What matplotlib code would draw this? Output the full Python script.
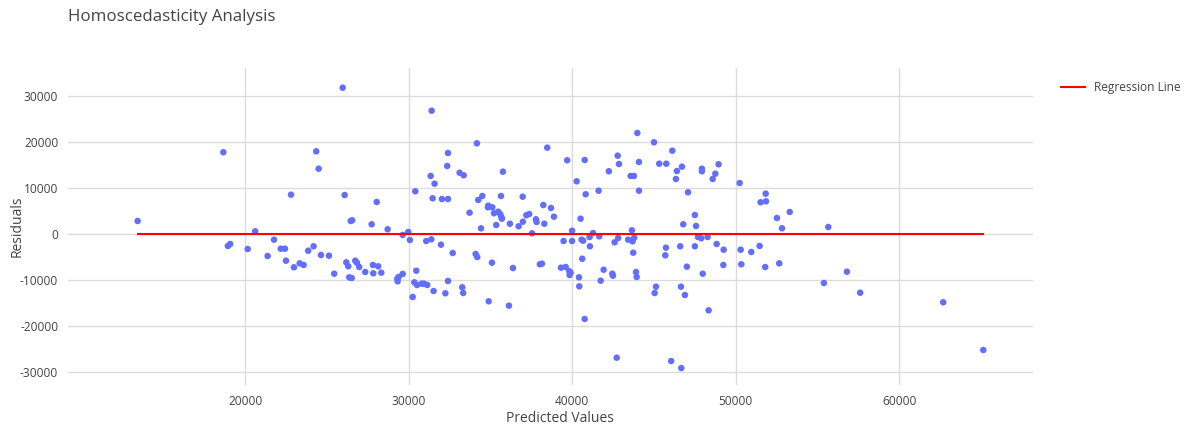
import matplotlib
matplotlib.use("Agg")
import matplotlib.pyplot as plt
import numpy as np

# Predicted values and residuals
predicted = [
    13420, 18660, 18940, 19080, 20150, 20610, 21370, 21760, 22170, 22430,
    22490, 22800, 22980, 23330, 23570, 23850, 24180, 24340, 24490, 24630,
    25120, 25440, 25960, 26080, 26180, 26300, 26360, 26510, 26450, 26540,
    26730, 26830, 26970, 27340, 27730, 27810, 27830, 28040, 28130, 28320,
    28710, 29300, 29320, 29380, 29630, 29630, 29970, 30070, 30240, 30340,
    30500, 30790, 30930, 31130, 30400, 30460, 31070, 31400, 31340, 31580,
    31460, 31380, 31520, 31970, 32030, 32400, 32350, 32400, 32400, 32240,
    32690, 33110, 33360, 33270, 33330, 33720, 34090, 34190, 34170, 34250,
    34500, 34420, 34860, 34840, 35110, 34890, 35090, 35210, 35470, 35600,
    35660, 35700, 35350, 35640, 35760, 36130, 36190, 36370, 36720, 36970,
    36980, 37190, 37370, 37540, 37780, 37820, 38020, 38150, 38230, 38290,
    38470, 38700, 38880, 39310, 39600, 39470, 39690, 39820, 39840, 39900,
    39990, 39990, 40270, 40410, 40430, 40510, 40570, 40670, 40610, 40760,
    40760, 40820, 41060, 41080, 41270, 41610, 41650, 41740, 41920, 42240,
    42450, 42490, 42590, 42720, 42780, 42860, 42810, 43420, 43690, 43790,
    43570, 43770, 43650, 43730, 43900, 43940, 43980, 44080, 44080, 45000,
    45040, 45120, 45320, 45750, 45690, 45730, 46050, 46120, 46340, 46400,
    46600, 46650, 46670, 46710, 46790, 46890, 47010, 47080, 47500, 47500,
    47570, 47690, 47890, 48280, 47930, 47930, 47980, 48340, 48590, 48750,
    48830, 48950, 49240, 49260, 50240, 50300, 50340, 50950, 51460, 51520,
    51850, 51830, 51800, 52520, 52660, 52830, 53300, 55390, 55660, 56800,
    57610, 62690, 65140,
]
residuals = [
    2890, 17830, -2540, -2110, -3200, 650, -4720, -1170, -3130, -3130,
    -5740, 8610, -7170, -6310, -6670, -3570, -2610, 18040, 14260, -4500,
    -4650, -8570, 31870, 8540, -6090, -6960, -9350, -9500, 2890, 3040,
    -5740, -6170, -7110, -8200, 2170, -6670, -8480, 7020, -6960, -8350,
    1090, -9650, -10220, -9280, -8610, -150, 500, -1240, -13630, -10440,
    -11020, -10740, -10740, -11020, 9350, -7910, -1460, 26870, 12680, 11000,
    7830, -1090, -12330, -2260, 7670, 7670, 14850, 17680, -10150, -12830,
    -4070, 13390, 12830, -11520, -12760, 4700, -4280, -4940, 19780, 7460,
    8330, 1300, 6220, 5870, 5870, -14570, -6170, 4570, 4910, 4350,
    3760, 3390, 2020, 8330, 13610, -15520, 2300, -7330, 1740, 8170,
    2740, 4130, 4410, 220, 3260, 2670, -6520, -6390, 6370, 2300,
    18830, 5720, 3830, -7260, -7110, -1460, 16090, -8040, -8850, -8350,
    780, -1460, 11520, -9350, -11310, 3390, -1170, -1390, -5310, 16150,
    -18410, 8700, -590, -2610, 280, 9480, -440, -10090, -7700, 13700,
    -8570, -9000, -1740, -26830, 17090, 15280, -800, -1170, -1520, -740,
    12680, 12680, 870, -4000, -8200, -9280, 22020, 15720, 9480, 20000,
    -12760, -11390, 15350, 15350, -4570, -2910, -27550, 18180, 12020, 13760,
    -2610, -11390, -29070, 14700, 2170, -13200, -7040, 9130, 4200, -2610,
    1800, -590, -870, -590, 14260, 13700, -8570, -16520, 12020, 13170,
    -2110, 15220, -6670, -3350, 11150, -3350, -6520, -3850, -2540, 6960,
    7170, 8830, -7110, 3540, -6310, 1300, 4850, -10590, 1590, -8130,
    -12700, -14780, -25150,
]

# Fitted regression line of residuals on predicted values
reg_slope = 0.0
reg_intercept = 0.0

x_ticks = [20000, 30000, 40000, 50000, 60000]
y_ticks = [-30000, -20000, -10000, 0, 10000, 20000, 30000]

plt.rcParams['font.family'] = ['Open Sans', 'DejaVu Sans']
text_color = '#444444'

W, H = 1185, 428
fig = plt.figure(figsize=(W / 100, H / 100), dpi=100)
ax = fig.add_axes([68 / W, 1 - 385 / H, (1033 - 68) / W, (385 - 68) / H])

ax.set_xlim(9160, 68180)
ax.set_ylim(-32760, 36150)

ax.set_xticks(x_ticks)
ax.set_yticks(y_ticks)
ax.set_xticklabels([str(v) for v in x_ticks])
ax.set_yticklabels([str(v) for v in y_ticks])
ax.grid(True, color='#dcdcdc', linewidth=1.0)
ax.set_axisbelow(True)
for s in ax.spines.values():
    s.set_visible(False)
ax.tick_params(length=0, labelsize=8.6, colors=text_color, pad=7)

ax.scatter(predicted, residuals, s=22, color='#636efa', edgecolors='none', zorder=3)

x_line = np.array([min(predicted), max(predicted)])
ax.plot(x_line, reg_slope * x_line + reg_intercept, color='red', linewidth=1.5,
        label='Regression Line', zorder=4)

fig.text(560 / W, 1 - 419 / H, 'Predicted Values', fontsize=10,
         color=text_color, ha='center', va='center')
fig.text(17 / W, 1 - 226 / H, 'Residuals', fontsize=10, rotation=90,
         color=text_color, ha='center', va='center')

fig.text(68 / W, 1 - 17 / H, 'Homoscedasticity Analysis', fontsize=12.2,
         color=text_color, va='center', ha='left')

ax.legend(loc='upper left', bbox_to_anchor=(1050 / W, 1 - 70 / H),
          bbox_transform=fig.transFigure, frameon=False, fontsize=8.6,
          handlelength=2.0, labelcolor=text_color)

fig.savefig('out.png', dpi=100)
